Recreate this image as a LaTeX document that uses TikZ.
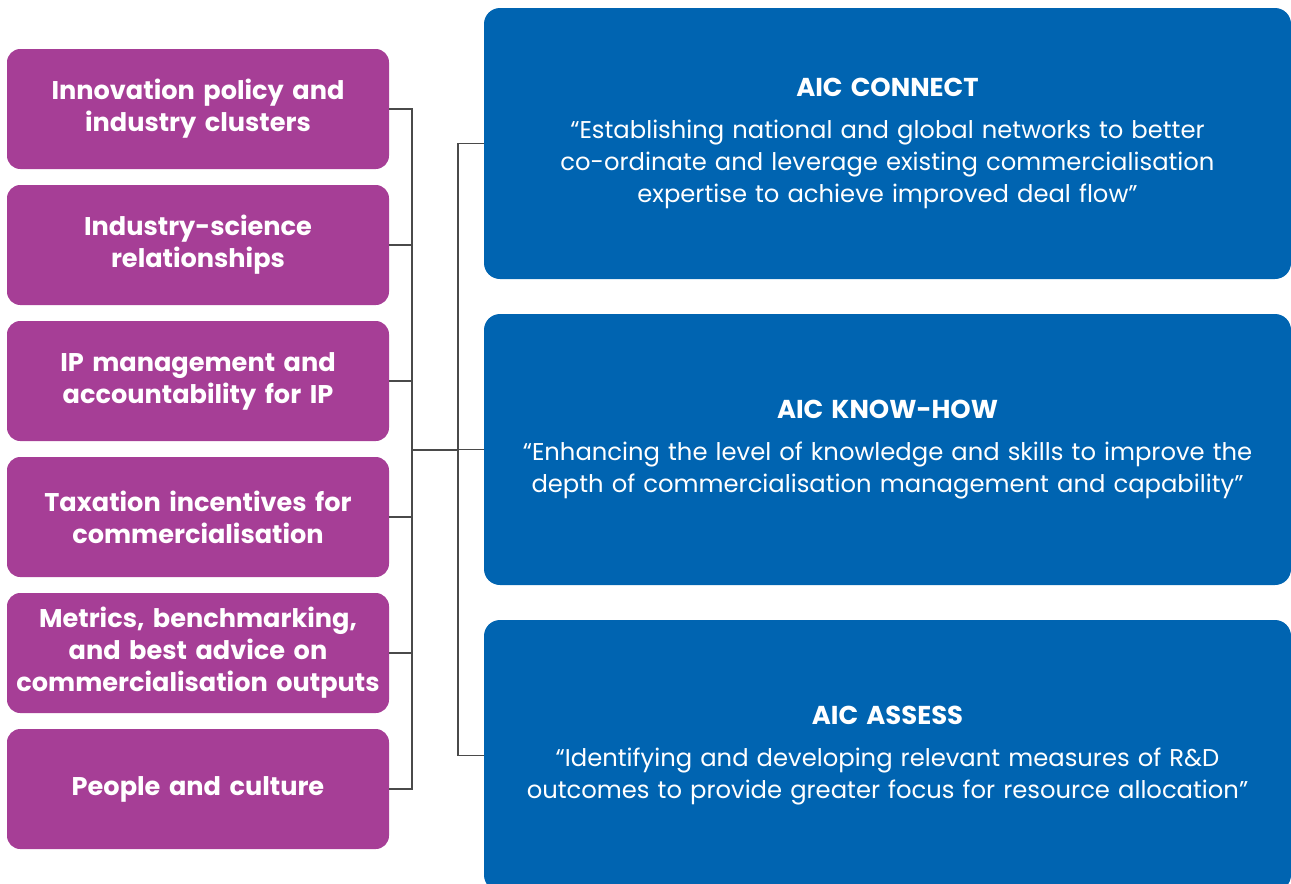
\documentclass[tikz,border=0pt]{standalone}
\usepackage{fontspec}
\setmainfont{Poppins}
\usetikzlibrary{positioning}
\definecolor{topicpurple}{HTML}{A63E96}
\definecolor{aicblue}{HTML}{0064B1}
\definecolor{wire}{HTML}{4A4A4A}
\tikzset{
  topic/.style={fill=topicpurple, rounded corners=10pt, minimum width=286.5pt,
    minimum height=90pt, text width=285pt, align=center, text=white,
    font=\fontsize{19.2}{24}\selectfont\bfseries, inner sep=0pt},
  program/.style={fill=aicblue, rounded corners=12pt, minimum width=605.25pt,
    minimum height=203.25pt, text width=600pt, align=center, text=white,
    font=\fontsize{18.2}{24}\selectfont, inner sep=0pt},
  wireline/.style={draw=wire, line width=1pt},
}
\newcommand{\aichead}[1]{{\fontsize{19.4}{24}\selectfont\bfseries #1}\\[7pt]}
\begin{document}
\begin{tikzpicture}[x=0.75pt, y=-0.75pt]
\useasboundingbox (0,0) rectangle (1291,883);
\clip (0,0) rectangle (1291,883);
% policy topics on the left
\node[topic] (t1) at (198,109) {Innovation policy and\\industry clusters};
\node[topic] (t2) at (198,245) {Industry-science\\relationships};
\node[topic] (t3) at (198,381) {IP management and\\accountability for IP};
\node[topic] (t4) at (198,517) {Taxation incentives for\\commercialisation};
\node[topic] (t5) at (198,653) {Metrics, benchmarking,\\and best advice on\\commercialisation outputs};
\node[topic] (t6) at (198,789) {People and culture};
% AIC programmes on the right
\node[program] (p1) at (887.5,143.5) {\aichead{AIC CONNECT}“Establishing national and global networks to better\\co-ordinate and leverage existing commercialisation\\expertise to achieve improved deal flow”};
\node[program] (p2) at (887.5,449.5) {\aichead{AIC KNOW-HOW}“Enhancing the level of knowledge and skills to improve the\\depth of commercialisation management and capability”};
\node[program] (p3) at (887.5,755.5) {\aichead{AIC ASSESS}“Identifying and developing relevant measures of R\&D\\outcomes to provide greater focus for resource allocation”};
% bus lines joining both columns
\coordinate (busL) at (412,450);
\coordinate (busR) at (458,450);
\foreach \t in {t1,t2,t3,t4,t5,t6}
  \draw[wireline] (\t.east) -| (busL);
\draw[wireline] (busL) -- (busR);
\foreach \p in {p1,p2,p3}
  \draw[wireline] (busR) |- (\p.west);
\end{tikzpicture}
\end{document}
